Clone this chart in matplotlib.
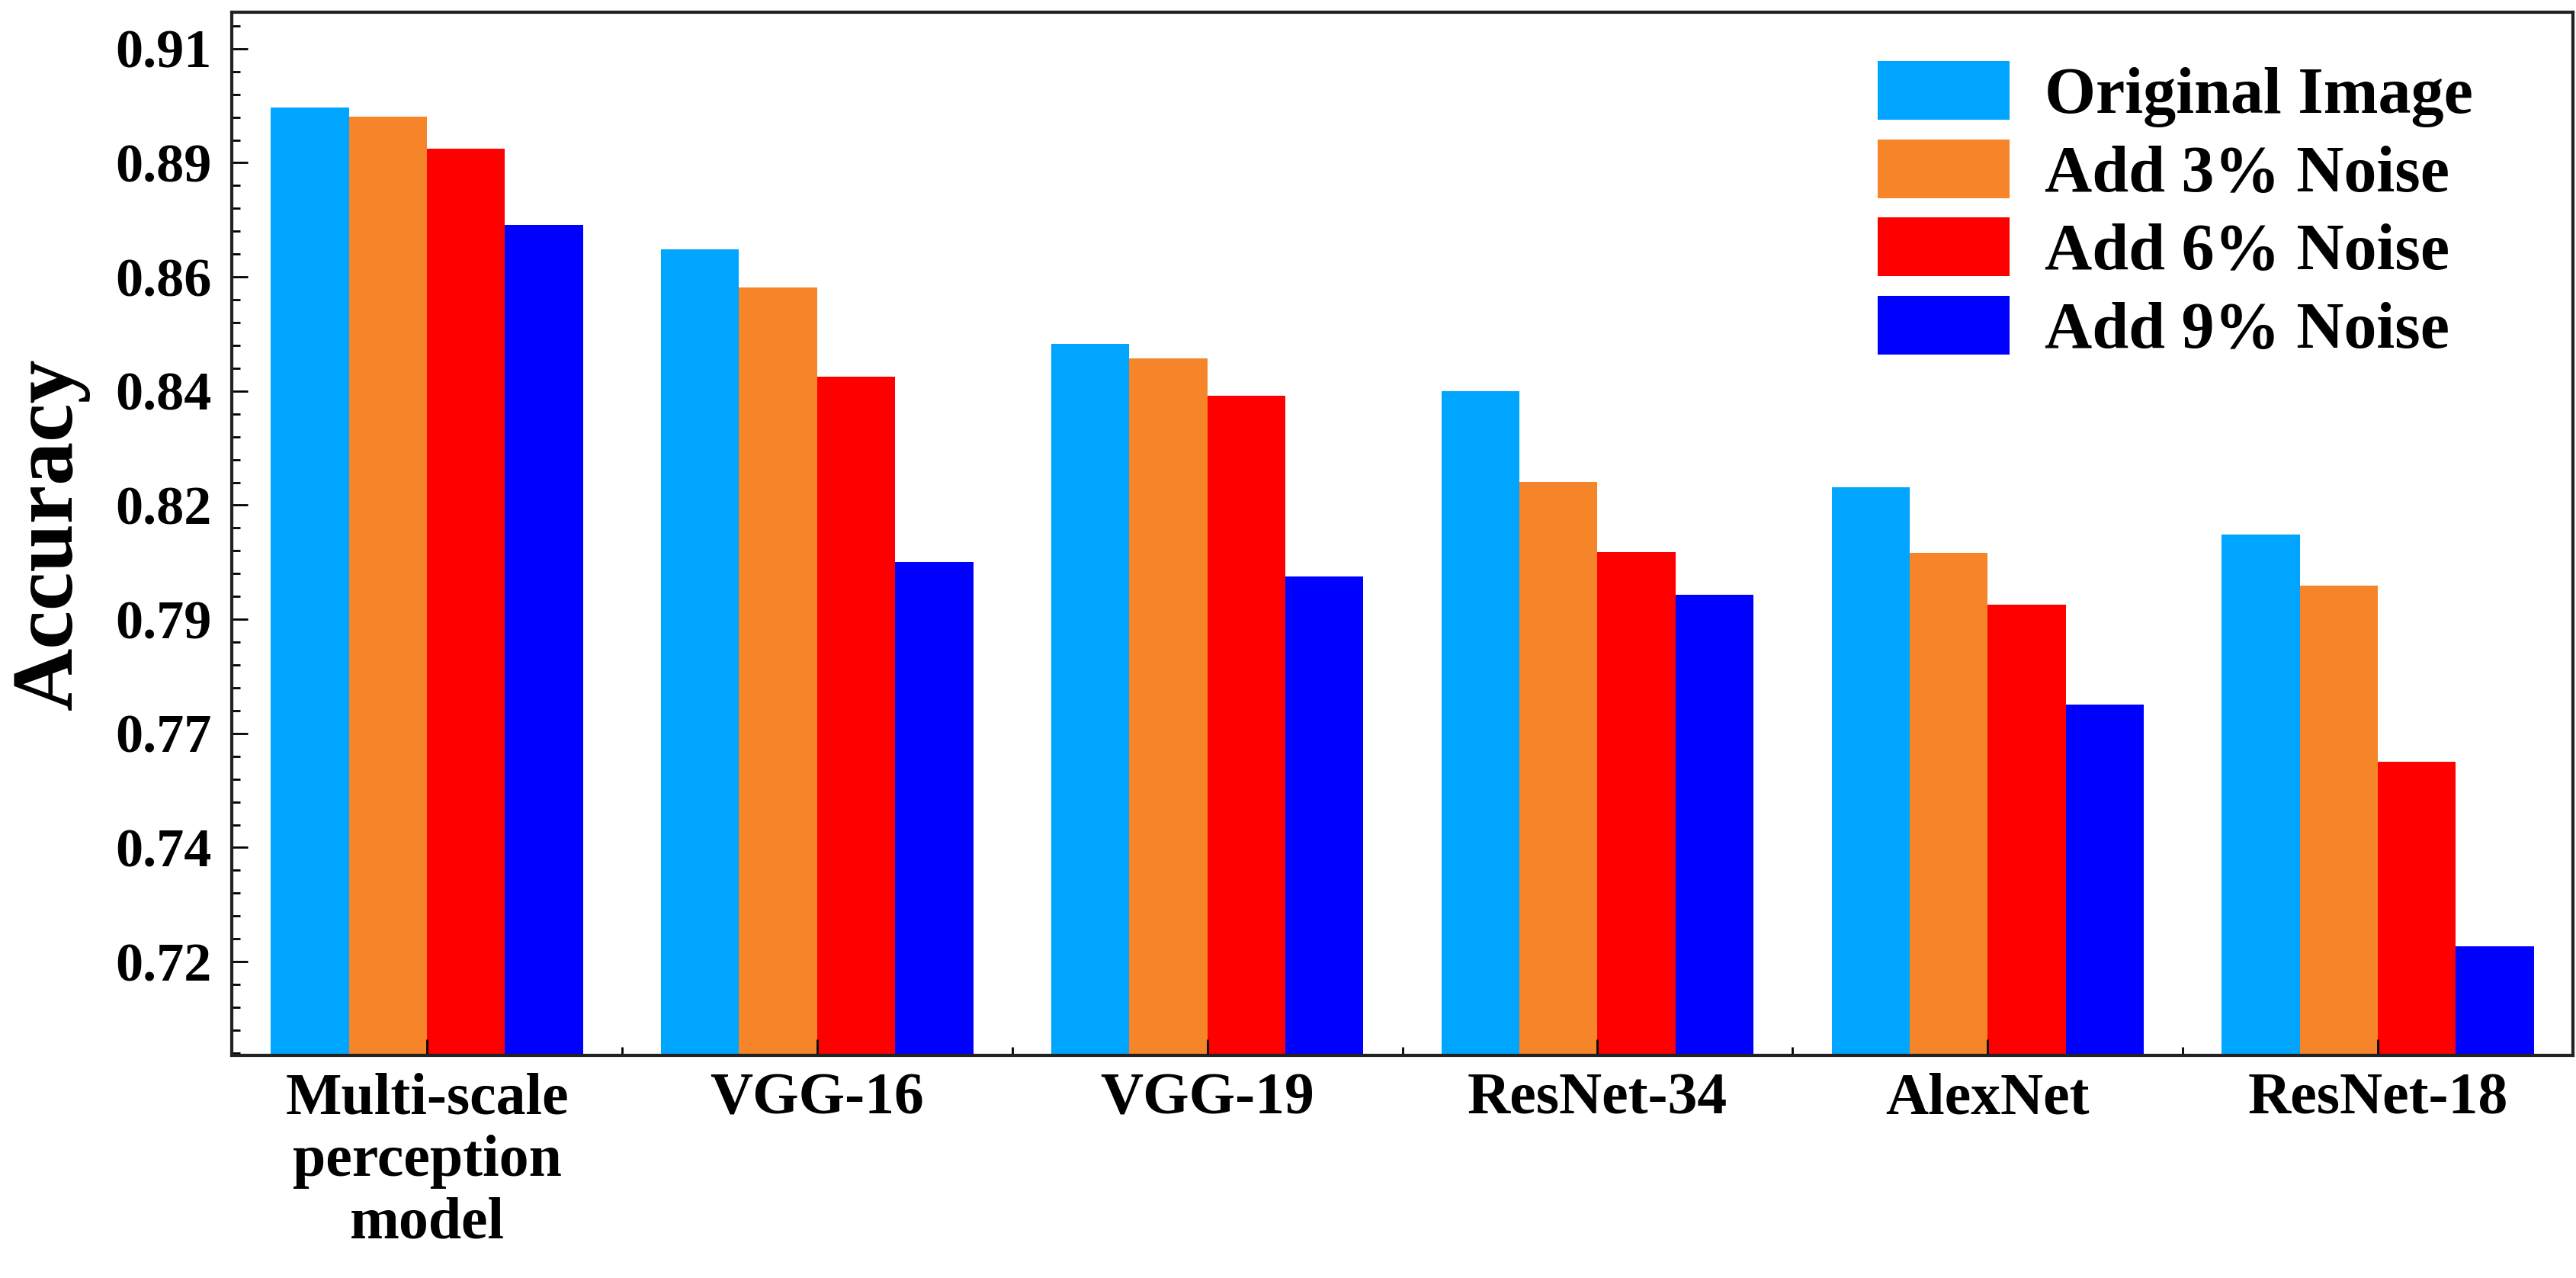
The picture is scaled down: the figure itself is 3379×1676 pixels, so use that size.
##import
import numpy as np
import matplotlib.pyplot as plt
from matplotlib.ticker import FixedLocator, AutoMinorLocator

##donnees
models = ['Multi-scale\nperception\nmodel', 'VGG-16', 'VGG-19', 'ResNet-34', 'AlexNet', 'ResNet-18']
series_names = ['Original Image', 'Add 3% Noise', 'Add 6% Noise', 'Add 9% Noise']

acc_original = [0.8978, 0.8683, 0.8485, 0.8387, 0.8188, 0.8089]
acc_noise3 = [0.8958, 0.8603, 0.8456, 0.8199, 0.8051, 0.7983]
acc_noise6 = [0.8892, 0.8417, 0.8377, 0.8052, 0.7943, 0.7616]
acc_noise9 = [0.8733, 0.8031, 0.8001, 0.7963, 0.7735, 0.7232]

ytick_values = [0.72 + k * 0.02375 for k in range(9)]
ytick_labels = ['0.72', '0.74', '0.77', '0.79', '0.82', '0.84', '0.86', '0.89', '0.91']

colors = ['#00A5FF', '#F6852A', '#FF0000', '#0000FF']

##figure
plt.rcParams['font.family'] = ['Liberation Serif', 'DejaVu Serif']
plt.rcParams['font.weight'] = 'bold'

fig = plt.figure(figsize=(16.895, 8.38), dpi=200)
ax = fig.add_axes([0.0900, 0.1742, 0.9088, 0.8163])

x = np.arange(len(models))
width = 0.2
all_series = [acc_original, acc_noise3, acc_noise6, acc_noise9]
for i, vals in enumerate(all_series):
    ax.bar(x + (i - 1.5) * width, vals, width, color=colors[i], label=series_names[i], linewidth=0)

ax.set_xlim(-0.5, 5.5)
ax.set_ylim(0.7005, 0.9176)

# axe y
ax.yaxis.set_major_locator(FixedLocator(ytick_values))
ax.set_yticklabels(ytick_labels)
ax.yaxis.set_minor_locator(AutoMinorLocator(5))
# axe x
ax.set_xticks(x)
ax.set_xticklabels(models)
ax.xaxis.set_minor_locator(FixedLocator([k + 0.5 for k in range(5)]))

ax.tick_params(axis='both', which='major', direction='in', length=7.5, width=1.0, color='black')
ax.tick_params(axis='both', which='minor', direction='in', length=4, width=1.0, color='black')
ax.tick_params(axis='y', which='major', labelsize=26, pad=9.5)
ax.tick_params(axis='x', which='major', labelsize=28, pad=8)
ax.tick_params(top=False, right=False, which='both')

for lab in ax.get_xticklabels() + ax.get_yticklabels():
    lab.set_fontweight('bold')

for sp in ax.spines.values():
    sp.set_linewidth(1.5)
    sp.set_color('#222222')

ax.set_ylabel('Accuracy', fontsize=41, fontweight='bold', labelpad=12)

leg = ax.legend(loc='upper left', bbox_to_anchor=(0.703, 0.953), frameon=False,
                prop={'size': 31, 'weight': 'bold'}, handlelength=2.01, handleheight=1.0,
                handletextpad=0.53, labelspacing=0.18, borderpad=0, borderaxespad=0)

fig.savefig('out.png', dpi=200)
